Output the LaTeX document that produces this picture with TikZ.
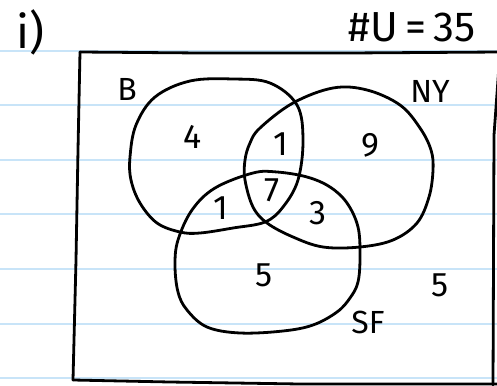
\documentclass[tikz,border=0pt]{standalone}
\usepackage{fontspec}
\setmainfont{Fira Sans}
\begin{document}
\begin{tikzpicture}[x=1pt,y=-1pt,
  paperline/.style={draw={rgb,255:red,200;green,228;blue,248},line width=1.6pt},
  ink/.style={draw=black,line width=2.8pt,line cap=round,line join=round},
  num/.style={font=\fontsize{34}{38}\selectfont,inner sep=0pt},
  lbl/.style={font=\fontsize{32}{36}\selectfont,inner sep=0pt}]
\useasboundingbox (0,0) rectangle (497,385);
\fill[white] (0,0) rectangle (497,385);
\foreach \yy in {51,105,160,214,269,324,378}
  \draw[paperline] (0,\yy) -- (497,\yy);
% frame
\draw[ink] (80,52) -- (200,53) -- (350,53) -- (500,52);
\draw[ink] (80,52) -- (78,150) -- (76,260) -- (73,380);
\draw[ink] (73,380) -- (170,382) -- (300,384) -- (500,384);
\draw[ink] (500,52) -- (494,135) -- (493,385);
% B
\draw[ink] plot[smooth cycle,tension=0.6] coordinates {
 (233,79) (270,83) (297,105) (303,140) (298,180) (283,207) (265,222)
 (233,228) (200,233) (180,232) (157,223) (140,203) (131,180) (130,157)
 (136,125) (155,97) (190,81)};
% NY
\draw[ink] plot[smooth cycle,tension=0.6] coordinates {
 (333,88) (367,90) (400,105) (420,128) (431,150) (433,170) (429,197)
 (417,223) (393,240) (360,247) (323,247) (293,237) (267,223) (253,207)
 (245,180) (245,160) (250,143) (260,128) (293,103)};
% SF
\draw[ink] plot[smooth cycle,tension=0.6] coordinates {
 (253,173) (277,172) (307,177) (330,187) (347,203) (358,227) (360,256)
 (358,282) (350,298) (337,312) (313,325) (283,331) (240,333) (207,327)
 (187,310) (178,292) (175,265) (178,240) (192,210) (215,188)};
% labels
\node[font=\fontsize{46}{50}\selectfont,inner sep=0pt] (part) at (30,32) {i)};
\node[font=\fontsize{42}{46}\selectfont,inner sep=0pt] (card) at (412,27) {\#U\,=\,35};
\node[lbl] (lb) at (127,89) {B};
\node[lbl] (lny) at (430,91) {NY};
\node[lbl] (lsf) at (368,322) {SF};
\node[num] (n4) at (193,137) {4};
\node[num] (n1a) at (281,144) {1};
\node[num] (n9) at (370,145) {9};
\node[num] (n7) at (272,190) {7};
\node[num] (n1b) at (221,208) {1};
\node[num] (n3) at (318,213) {3};
\node[num] (n5a) at (264,275) {5};
\node[num] (n5b) at (440,285) {5};
\end{tikzpicture}
\end{document}
